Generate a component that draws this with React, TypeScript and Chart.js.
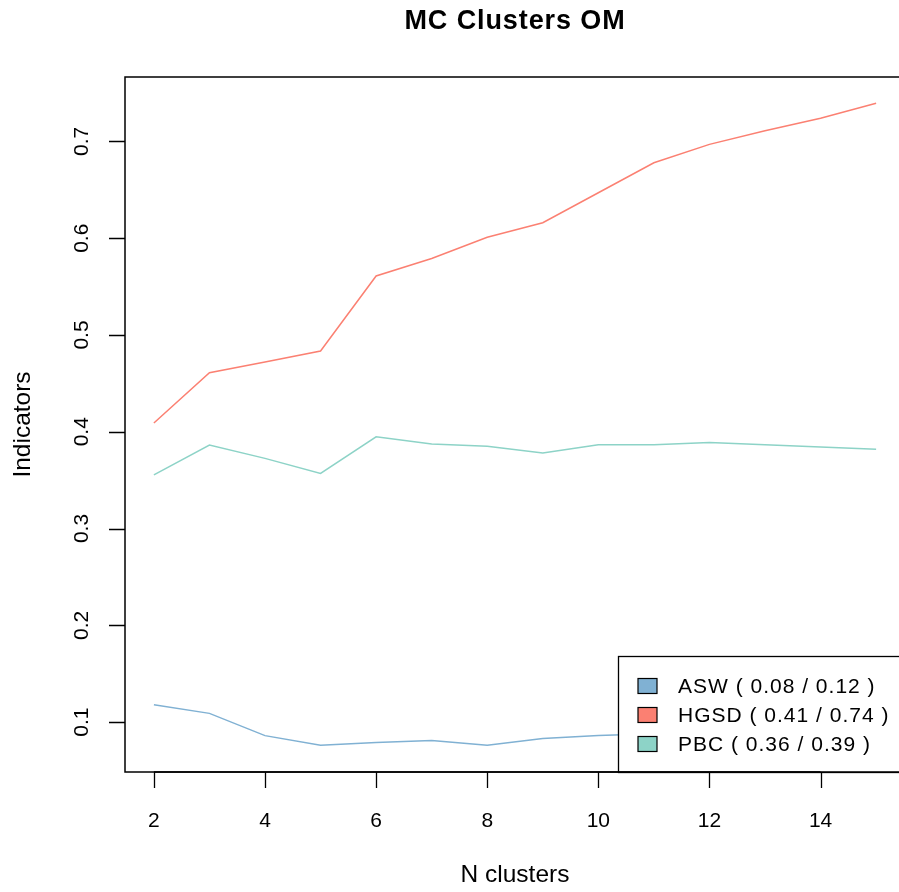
import React, { useEffect, useRef } from "react";
import { Chart, registerables } from "chart.js";

Chart.register(...registerables);

const nClusters = [2, 3, 4, 5, 6, 7, 8, 9, 10, 11, 12, 13, 14, 15];
const aswValues = [0.118, 0.109, 0.086, 0.076, 0.079, 0.081, 0.076, 0.083, 0.086, 0.088, 0.09, 0.092, 0.093, 0.094];
const hgsdValues = [0.409, 0.461, 0.472, 0.4835, 0.561, 0.579, 0.601, 0.616, 0.647, 0.678, 0.697, 0.711, 0.724, 0.7395];
const pbcValues = [0.3554, 0.3863, 0.3725, 0.357, 0.3948, 0.3873, 0.3849, 0.378, 0.3866, 0.3866, 0.389, 0.3866, 0.3842, 0.382];
const seriesNames = ["ASW", "HGSD", "PBC"];
const seriesColors = ["#80B1D3", "#FB8072", "#8DD3C7"];
const legendLabels = ["ASW ( 0.08 / 0.12 )", "HGSD ( 0.41 / 0.74 )", "PBC ( 0.36 / 0.39 )"];
const xTickValues = [2, 4, 6, 8, 10, 12, 14];
const yTickValues = [0.1, 0.2, 0.3, 0.4, 0.5, 0.6, 0.7];
const yTickLabels = ["0.1", "0.2", "0.3", "0.4", "0.5", "0.6", "0.7"];
const titleText = "MC Clusters OM";
const xTitle = "N clusters";
const yTitle = "Indicators";

const FONT = "'Liberation Sans', Arial, sans-serif";

const rPlot = {
  id: "rPlot",
  afterDatasetsDraw(chart: any) {
    const ctx = chart.ctx;
    const area = chart.chartArea;
    const xs = chart.scales.x;
    const ys = chart.scales.y;
    ctx.save();
    // legend box (opaque, covers lines)
    const lx = 618, ly = 656;
    ctx.fillStyle = "#ffffff";
    ctx.fillRect(lx, ly, area.right + 10 - lx, area.bottom - ly);
    ctx.strokeStyle = "#000";
    ctx.lineWidth = 1.3;
    ctx.strokeRect(lx + 0.5, ly + 0.5, area.right + 10 - lx, area.bottom - ly);
    ctx.font = `21px ${FONT}`;
    ctx.textBaseline = "middle";
    ctx.textAlign = "left";
    (ctx as any).letterSpacing = "1px";
    for (let i = 0; i < seriesNames.length; i++) {
      const cy = 686 + i * 29;
      ctx.fillStyle = seriesColors[i];
      ctx.fillRect(638, cy - 7.5, 19, 15);
      ctx.strokeStyle = "#000";
      ctx.lineWidth = 1.2;
      ctx.strokeRect(638, cy - 7.5, 19, 15);
      ctx.fillStyle = "#000";
      ctx.fillText(legendLabels[i], 678, cy + 1);
    }
    (ctx as any).letterSpacing = "0px";
    // plot box
    ctx.strokeStyle = "#000";
    ctx.lineWidth = 1.5;
    ctx.strokeRect(area.left, area.top, area.right - area.left, area.bottom - area.top);
    // x ticks
    ctx.lineWidth = 1.3;
    ctx.fillStyle = "#000";
    ctx.font = `21px ${FONT}`;
    ctx.textAlign = "center";
    ctx.textBaseline = "middle";
    ctx.beginPath();
    const x0 = xs.getPixelForValue(xTickValues[0]);
    const x1 = xs.getPixelForValue(xTickValues[xTickValues.length - 1]);
    ctx.moveTo(x0, area.bottom);
    ctx.lineTo(x1, area.bottom);
    for (const v of xTickValues) {
      const px = Math.round(xs.getPixelForValue(v)) + 0.5;
      ctx.moveTo(px, area.bottom);
      ctx.lineTo(px, area.bottom + 16);
    }
    ctx.stroke();
    for (const v of xTickValues) {
      ctx.fillText(String(v), xs.getPixelForValue(v), 821);
    }
    // y ticks
    ctx.beginPath();
    for (const v of yTickValues) {
      const py = Math.round(ys.getPixelForValue(v)) + 0.5;
      ctx.moveTo(area.left, py);
      ctx.lineTo(area.left - 16, py);
    }
    ctx.stroke();
    for (let i = 0; i < yTickValues.length; i++) {
      const py = ys.getPixelForValue(yTickValues[i]);
      ctx.save();
      ctx.translate(82, py);
      ctx.rotate(-Math.PI / 2);
      ctx.fillText(yTickLabels[i], 0, 0);
      ctx.restore();
    }
    // axis titles
    ctx.font = `24.5px ${FONT}`;
    ctx.fillText(xTitle, (area.left + area.right) / 2, 875);
    ctx.save();
    ctx.translate(23, (area.top + area.bottom) / 2);
    ctx.rotate(-Math.PI / 2);
    ctx.fillText(yTitle, 0, 0);
    ctx.restore();
    // title
    ctx.font = `bold 27px ${FONT}`;
    (ctx as any).letterSpacing = "0.9px";
    ctx.fillText(titleText, (area.left + area.right) / 2, 22);
    (ctx as any).letterSpacing = "0px";
    ctx.restore();
  },
};

export default function App() {
  const ref = useRef<HTMLCanvasElement | null>(null);
  useEffect(() => {
    if (!ref.current) return;
    const mk = (vals: number[]) => nClusters.map((n, i) => ({ x: n, y: vals[i] }));
    const allSeries = [aswValues, hgsdValues, pbcValues];
    const chart = new Chart(ref.current, {
      type: "line",
      data: {
        datasets: allSeries.map((vals, i) => ({
          label: seriesNames[i],
          data: mk(vals),
          borderColor: seriesColors[i],
          backgroundColor: seriesColors[i],
          borderWidth: 1.5,
          pointRadius: 0,
          tension: 0,
          fill: false,
        })),
      },
      options: {
        animation: false,
        responsive: false,
        devicePixelRatio: 1,
        layout: { padding: { left: 125, top: 77, right: 5, bottom: 120 } },
        plugins: { legend: { display: false }, tooltip: { enabled: false }, title: { display: false } },
        scales: {
          x: { type: "linear", min: 1.48, max: 15.52, display: false },
          y: { type: "linear", min: 0.0484, max: 0.7666, display: false },
        },
      },
      plugins: [rPlot],
    });
    return () => chart.destroy();
  }, []);
  return (
    <div style={{ position: "absolute", left: 0, top: 0, width: 899, height: 892, overflow: "hidden", background: "#fff" }}>
      <canvas ref={ref} width={910} height={892} style={{ width: 910, height: 892, display: "block" }} />
    </div>
  );
}
